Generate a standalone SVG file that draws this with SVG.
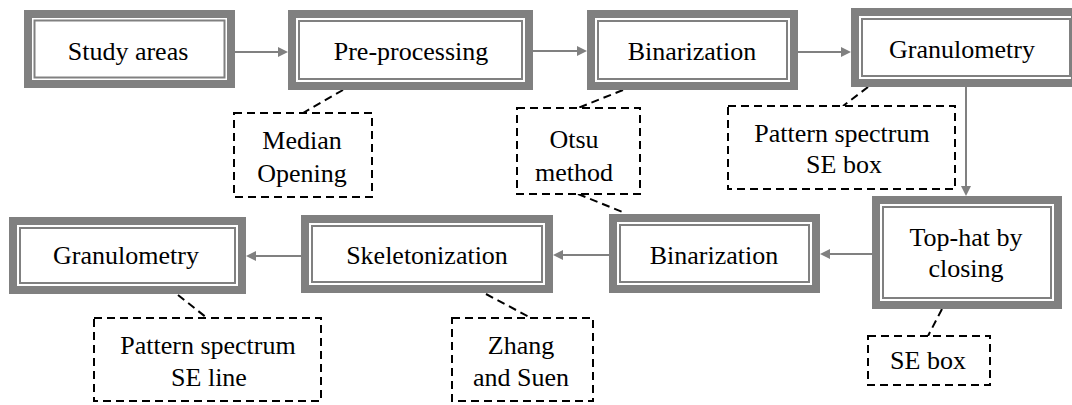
<svg xmlns="http://www.w3.org/2000/svg" width="1072" height="405" viewBox="0 0 1072 405">
<style>
.outer{fill:#fff;stroke:#808080;stroke-width:8}
.inner{fill:none;stroke:#808080;stroke-width:2}
.dash{fill:#fff;stroke:#000;stroke-width:2;stroke-dasharray:8 5}
.dl{fill:none;stroke:#000;stroke-width:2;stroke-dasharray:8 5}
.arr{fill:none;stroke:#808080;stroke-width:2;marker-end:url(#ah)}
text{font-family:'Liberation Serif','Times New Roman',serif;font-size:26px;fill:#000;text-anchor:middle}
</style>
<defs>
<marker id="ah" markerUnits="userSpaceOnUse" markerWidth="10" markerHeight="10" viewBox="0 0 10 10" refX="1" refY="5" orient="auto">
<path d="M0,0 L10,5 L0,10 z" fill="#808080"/>
</marker>
</defs>
<g id="connectors">
<line class="arr" x1="235" y1="52" x2="279" y2="52"/>
<line class="arr" x1="533" y1="51" x2="578" y2="51"/>
<line class="arr" x1="798" y1="52" x2="842" y2="52"/>
<line class="arr" x1="966" y1="87" x2="966" y2="187"/>
<line class="arr" x1="872" y1="254" x2="829" y2="254"/>
<line class="arr" x1="609" y1="255" x2="562" y2="255"/>
<line class="arr" x1="301" y1="256" x2="255" y2="256"/>
<line class="dl" x1="343" y1="90" x2="303" y2="113"/>
<line class="dl" x1="623" y1="90" x2="578" y2="108"/>
<line class="dl" x1="578" y1="194" x2="625" y2="213"/>
<line class="dl" x1="868" y1="87" x2="843" y2="106"/>
<line class="dl" x1="942" y1="309" x2="928" y2="336"/>
<line class="dl" x1="486" y1="294" x2="531" y2="318"/>
<line class="dl" x1="178" y1="295" x2="207" y2="318"/>
</g>
<g id="study-areas">
<rect class="outer" x="28" y="14" width="203" height="70"/>
<rect class="inner" x="34.5" y="20.5" width="190" height="57"/>
<text x="128" y="60">Study areas</text>
</g>
<g id="pre-processing">
<rect class="outer" x="292" y="14" width="237" height="72"/>
<rect class="inner" x="299" y="21" width="223" height="58"/>
<text x="411" y="60">Pre-processing</text>
</g>
<g id="binarization-1">
<rect class="outer" x="591" y="14" width="203" height="72"/>
<rect class="inner" x="598" y="21" width="189" height="58"/>
<text x="692" y="60">Binarization</text>
</g>
<g id="granulometry-1">
<rect class="outer" x="855" y="12" width="220" height="71"/>
<rect class="inner" x="862" y="19" width="208" height="57"/>
<text x="962" y="58">Granulometry</text>
</g>
<g id="top-hat">
<rect class="outer" x="876" y="200" width="182" height="105"/>
<rect class="inner" x="883" y="207" width="168" height="91"/>
<text x="966" y="246">Top-hat by</text>
<text x="966" y="277">closing</text>
</g>
<g id="binarization-2">
<rect class="outer" x="613" y="218" width="203" height="71"/>
<rect class="inner" x="620" y="225" width="189" height="57"/>
<text x="714" y="264">Binarization</text>
</g>
<g id="skeletonization">
<rect class="outer" x="305" y="219" width="244" height="70"/>
<rect class="inner" x="312" y="226" width="230" height="56"/>
<text x="427" y="264">Skeletonization</text>
</g>
<g id="granulometry-2">
<rect class="outer" x="13" y="221" width="229" height="69"/>
<rect class="inner" x="20" y="228" width="215" height="55"/>
<text x="126" y="264">Granulometry</text>
</g>
<g id="median-opening">
<rect class="dash" x="234" y="113" width="138" height="84"/>
<text x="302" y="149">Median</text>
<text x="302" y="182">Opening</text>
</g>
<g id="otsu-method">
<rect class="dash" x="517" y="108" width="123" height="86"/>
<text x="574" y="148">Otsu</text>
<text x="574" y="181">method</text>
</g>
<g id="pattern-spectrum-box">
<rect class="dash" x="728" y="106" width="227" height="83"/>
<text x="842" y="142">Pattern spectrum</text>
<text x="844" y="173">SE box</text>
</g>
<g id="se-box">
<rect class="dash" x="868" y="336" width="122" height="49"/>
<text x="928" y="369">SE box</text>
</g>
<g id="zhang-suen">
<rect class="dash" x="452" y="318" width="141" height="83"/>
<text x="521" y="354">Zhang</text>
<text x="521" y="386">and Suen</text>
</g>
<g id="pattern-spectrum-line">
<rect class="dash" x="94" y="318" width="227" height="83"/>
<text x="208" y="354">Pattern spectrum</text>
<text x="209" y="386">SE line</text>
</g>
</svg>
